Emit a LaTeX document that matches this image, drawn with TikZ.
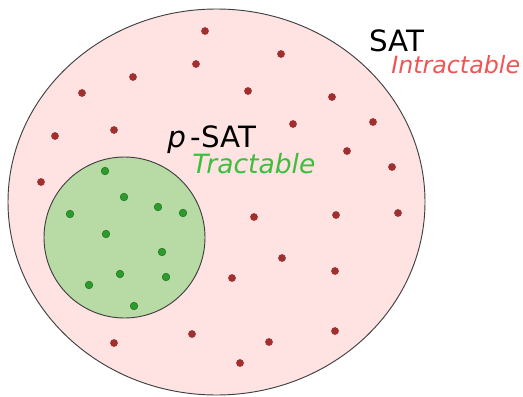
\documentclass[tikz,border=0pt]{standalone}
\usepackage{fontspec}
\setmainfont{DejaVu Sans}
\usetikzlibrary{shapes.geometric}

\definecolor{satpink}{RGB}{255,226,226}
\definecolor{psatgreen}{RGB}{184,219,166}
\definecolor{dotred}{RGB}{160,48,48}
\definecolor{dotgreen}{RGB}{44,154,44}
\definecolor{hardred}{RGB}{240,84,84}
\definecolor{easygreen}{RGB}{62,190,62}

\begin{document}
\begin{tikzpicture}[
        x=0.75pt, y=-0.75pt,
        bigset/.style={ellipse, draw=black!75, line width=0.7pt, fill=satpink, minimum width=312.75pt, minimum height=289.5pt, inner sep=0pt},
        smallset/.style={circle, draw=black!75, line width=0.7pt, fill=psatgreen, minimum size=120.75pt, inner sep=0pt},
        rdot/.style={circle, fill=dotred, inner sep=0pt, minimum size=5.8pt},
        gdot/.style={circle, fill=dotgreen, draw=dotgreen!70!black, line width=0.3pt, inner sep=0pt, minimum size=5.8pt},
        title/.style={anchor=base west, inner sep=0pt, font=\fontsize{22}{26}\selectfont},
        subtitle/.style={anchor=base west, inner sep=0pt, font=\itshape}
    ]
    \useasboundingbox (0,0) rectangle (523,396);

    % Insiemi
    \node[bigset]   (sat)  at (216.5,202) {};
    \node[smallset] (psat) at (124.5,237.5) {};

    % Etichette
    \node[title]    (satname)   at (369,51)  {SAT};
    \node[subtitle, text=hardred, font=\fontsize{17.8}{20}\selectfont\itshape] (hard) at (391,73) {Intractable};
    \node[title]    (psatname)  at (167,147) {\textit{p}\,-SAT};
    \node[subtitle, text=easygreen, font=\fontsize{19.9}{23}\selectfont\itshape] (easy) at (192,173) {Tractable};

    % Istanze
    \foreach [count=\i] \px/\py in {205/31, 196/64, 133/77, 82/93, 248/91, 114/130, 55/136, 41/182,
        281/54, 332/97, 293/124, 373/122, 347/151, 392/167, 254/217, 232/278, 192/334, 114/343,
        240/363, 336/215, 398/213, 282/258, 335/271, 335/331, 269/342}
        \node[rdot] (r\i) at (\px,\py) {};
    \foreach [count=\i] \px/\py in {105/171, 124/197, 70/214, 158/207, 183/213, 106/234,
        162/252, 120/274, 166/277, 89/285, 134/306}
        \node[gdot] (g\i) at (\px,\py) {};

\end{tikzpicture}
\end{document}
